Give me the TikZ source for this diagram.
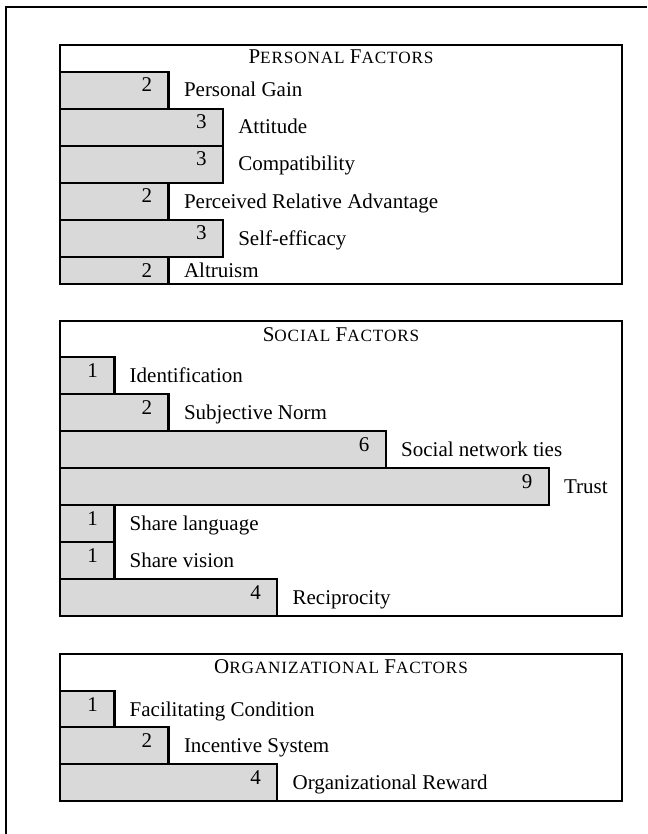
\documentclass[tikz,border=0pt]{standalone}
\usepackage{fontspec}
\setmainfont{Liberation Serif}
\newfontfamily\capsfont[LetterSpace=5]{Liberation Serif}
\newcommand{\sclow}[1]{{\capsfont\fontsize{8.6}{10}\selectfont #1}}

\begin{document}
\begin{tikzpicture}[x=0.5pt,y=-0.5pt,font=\fontsize{10.5}{12.6}\selectfont]

  \useasboundingbox (0,0) rectangle (647,834);

  % node styles
  \tikzstyle{Frame}=[line width=1.2pt]

  \tikzstyle{Bar}=[
  anchor=north west,
  shape=rectangle,draw,
  line width=1.2pt,
  fill=black!15,
  inner sep=0,outer sep=0,
  minimum height=18.5pt]

  \tikzstyle{Num}=[anchor=base east,inner sep=0,xshift=-8pt,yshift=-10pt]
  \tikzstyle{Item}=[anchor=base west,inner sep=0,xshift=7.5pt,yshift=-12.5pt]
  \tikzstyle{Head}=[anchor=base,inner sep=0]

  % outer frame
  \draw[Frame] (6,834) -- (6,7) -- (647,7);

  % personal factors
  \coordinate (P) at (60,45);
  \draw[Frame] (P) rectangle +(562,239);
  \draw (P) node[Head] (PH) at +(281,19) {P\sclow{ERSONAL} F\sclow{ACTORS}};

  \draw (P) node[Bar,minimum width=54.3pt] (P1) at +(0, 27) {};
  \draw (P) node[Bar,minimum width=81.45pt] (P2) at +(0, 64) {};
  \draw (P) node[Bar,minimum width=81.45pt] (P3) at +(0,101) {};
  \draw (P) node[Bar,minimum width=54.3pt] (P4) at +(0,138) {};
  \draw (P) node[Bar,minimum width=81.45pt] (P5) at +(0,175) {};
  \draw (P) node[Bar,minimum width=54.3pt,minimum height=13.5pt] (P6) at +(0,212) {};

  \node[Num] (P1n) at (P1.north east) {2};
  \node[Num] (P2n) at (P2.north east) {3};
  \node[Num] (P3n) at (P3.north east) {3};
  \node[Num] (P4n) at (P4.north east) {2};
  \node[Num] (P5n) at (P5.north east) {3};
  \node[Num] (P6n) at (P6.north east) {2};

  \node[Item] (P1t) at (P1.north east) {Personal Gain};
  \node[Item] (P2t) at (P2.north east) {Attitude};
  \node[Item] (P3t) at (P3.north east) {Compatibility};
  \node[Item] (P4t) at (P4.north east) {Perceived Relative Advantage};
  \node[Item] (P5t) at (P5.north east) {Self-efficacy};
  \node[Item,yshift=2.5pt] (P6t) at (P6.north east) {Altruism};

  % social factors
  \coordinate (S) at (60,321);
  \draw[Frame] (S) rectangle +(562,295);
  \draw (S) node[Head] (SH) at +(281,20) {S\sclow{OCIAL} F\sclow{ACTORS}};

  \draw (S) node[Bar,minimum width=27.15pt] (S1) at +(0, 36) {};
  \draw (S) node[Bar,minimum width=54.3pt] (S2) at +(0, 73) {};
  \draw (S) node[Bar,minimum width=162.9pt] (S3) at +(0,110) {};
  \draw (S) node[Bar,minimum width=244.35pt] (S4) at +(0,147) {};
  \draw (S) node[Bar,minimum width=27.15pt] (S5) at +(0,184) {};
  \draw (S) node[Bar,minimum width=27.15pt] (S6) at +(0,221) {};
  \draw (S) node[Bar,minimum width=108.6pt] (S7) at +(0,258) {};

  \node[Num] (S1n) at (S1.north east) {1};
  \node[Num] (S2n) at (S2.north east) {2};
  \node[Num] (S3n) at (S3.north east) {6};
  \node[Num] (S4n) at (S4.north east) {9};
  \node[Num] (S5n) at (S5.north east) {1};
  \node[Num] (S6n) at (S6.north east) {1};
  \node[Num] (S7n) at (S7.north east) {4};

  \node[Item] (S1t) at (S1.north east) {Identification};
  \node[Item] (S2t) at (S2.north east) {Subjective Norm};
  \node[Item] (S3t) at (S3.north east) {Social network ties};
  \node[Item] (S4t) at (S4.north east) {Trust};
  \node[Item] (S5t) at (S5.north east) {Share language};
  \node[Item] (S6t) at (S6.north east) {Share vision};
  \node[Item] (S7t) at (S7.north east) {Reciprocity};

  % organizational factors
  \coordinate (O) at (60,654);
  \draw[Frame] (O) rectangle +(562,147);
  \draw (O) node[Head] (OH) at +(281,19) {O\sclow{RGANIZATIONAL} F\sclow{ACTORS}};

  \draw (O) node[Bar,minimum width=27.15pt] (O1) at +(0, 37) {};
  \draw (O) node[Bar,minimum width=54.3pt] (O2) at +(0, 73) {};
  \draw (O) node[Bar,minimum width=108.6pt] (O3) at +(0,110) {};

  \node[Num] (O1n) at (O1.north east) {1};
  \node[Num] (O2n) at (O2.north east) {2};
  \node[Num] (O3n) at (O3.north east) {4};

  \node[Item] (O1t) at (O1.north east) {Facilitating Condition};
  \node[Item] (O2t) at (O2.north east) {Incentive System};
  \node[Item] (O3t) at (O3.north east) {Organizational Reward};

\end{tikzpicture}
\end{document}
